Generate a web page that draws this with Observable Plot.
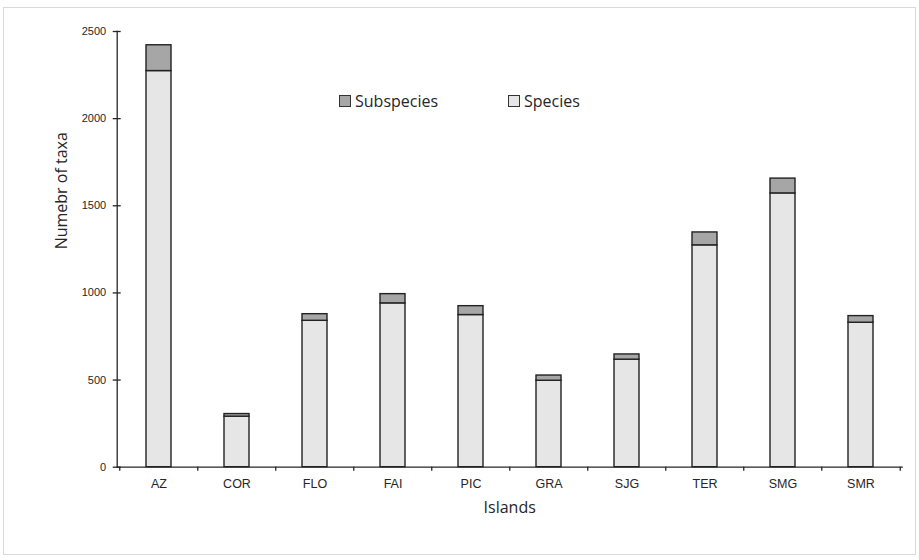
<!DOCTYPE html>
<html><head><meta charset="utf-8">
<script src="https://cdn.jsdelivr.net/npm/d3@7"></script>
<script src="https://cdn.jsdelivr.net/npm/@observablehq/plot@0.6"></script>
<style>
body{margin:0;background:#fff;}
#wrap{position:relative;width:919px;height:560px;overflow:hidden;}
#border{position:absolute;left:3px;top:7px;width:913px;height:548px;border:1px solid #d9d9d9;box-sizing:border-box;}
#chart{position:absolute;left:0;top:0;}
.legend{position:absolute;top:90px;font-family:"Open Sans";font-size:16px;color:#262626;display:flex;align-items:center;white-space:nowrap;}
.sw{display:inline-block;width:10px;height:10px;border:1px solid #333;margin-right:4px;}
</style></head>
<body><div id="wrap"><div id="border"></div><div id="chart"></div></div>
<script>
const islands = ["AZ","COR","FLO","FAI","PIC","GRA","SJG","TER","SMG","SMR"];
const species = [2273, 290, 840, 940, 873, 496, 617, 1273, 1571, 829];
const subspecies = [148, 15, 38, 53, 51, 30, 30, 74, 85, 38];
const seriesNames = ["Species", "Subspecies"];
const seriesColors = ["#e6e6e6", "#a6a6a6"];
const yTicks = [0, 500, 1000, 1500, 2000, 2500];
const xTitle = "Islands";
const yTitle = "Numebr of taxa";

const rows = islands.flatMap((isl, i) => [
  {island: isl, type: seriesNames[0], value: species[i]},
  {island: isl, type: seriesNames[1], value: subspecies[i]}
]);

const W = 919, H = 560, mL = 116.7, mR = 17.3, mT = 31, mB = 93.3;
const halfStep = (W - mL - mR) / islands.length / 2;
const ink = "#262626";

const chart = Plot.plot({
  width: W, height: H,
  marginLeft: mL, marginRight: mR, marginTop: mT, marginBottom: mB,
  style: {fontFamily: "'Liberation Sans', Arial, sans-serif", fontSize: "11px", color: ink, background: "transparent"},
  x: {domain: islands, paddingInner: 0.68, paddingOuter: 0.34, label: null},
  y: {domain: [0, 2500], label: null},
  color: {domain: seriesNames, range: seriesColors},
  marks: [
    Plot.barY(rows, {x: "island", y: "value", fill: "type", stroke: "#222", strokeWidth: 1.4}),
    Plot.frame({anchor: "left", stroke: ink, strokeWidth: 1.3}),
    Plot.frame({anchor: "bottom", stroke: ink, strokeWidth: 1.3}),
    Plot.axisY({ticks: yTicks, tickSize: 8, dx: 4, text: null, stroke: ink, strokeWidth: 1.3}),
    Plot.axisY({ticks: yTicks, tickSize: 0, tickPadding: 11, tickFormat: d3.format("d"), fill: ink, fontSize: 11, label: null}),
    Plot.axisX({ticks: islands, tickSize: 4, dx: -halfStep, text: null, stroke: ink, strokeWidth: 1.3}),
    Plot.axisX({ticks: islands.slice(-1), tickSize: 4, dx: halfStep, text: null, stroke: ink, strokeWidth: 1.3}),
    Plot.axisX({tickSize: 0, tickPadding: 12, fill: ink, fontSize: 12.5, label: null}),
    Plot.text([xTitle], {frameAnchor: "bottom", dy: 46, fontFamily: "Open Sans", fontSize: 16, fill: ink}),
    Plot.text([yTitle], {frameAnchor: "left", dx: -55, rotate: -90, fontFamily: "Open Sans", fontSize: 16, fill: ink})
  ]
});
document.getElementById("chart").appendChild(chart);

// legend (Excel-style, inside plot area)
const wrap = document.getElementById("wrap");
const legendLefts = [339, 508];
[1, 0].forEach((si, k) => {
  const d = document.createElement("div");
  d.className = "legend";
  d.style.left = legendLefts[k] + "px";
  const sw = document.createElement("span");
  sw.className = "sw";
  sw.style.background = seriesColors[si];
  d.appendChild(sw);
  d.appendChild(document.createTextNode(seriesNames[si]));
  wrap.appendChild(d);
});
</script>
</body></html>
